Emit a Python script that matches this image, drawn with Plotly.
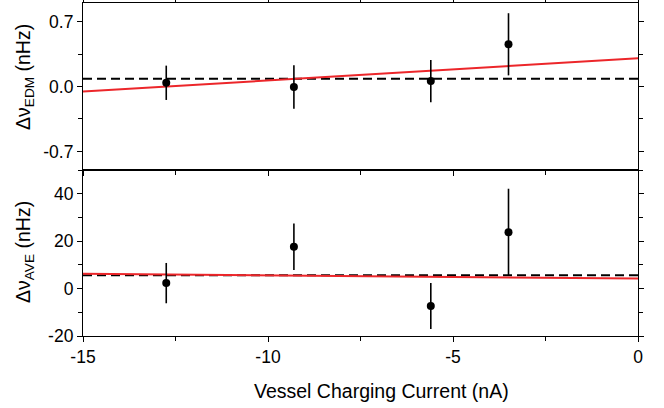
import plotly.graph_objects as go
from plotly.subplots import make_subplots

# Data
current_nA = [-12.75, -9.3, -5.6, -3.5]
edm_nHz = [0.04, -0.005, 0.058, 0.455]
edm_err = [0.185, 0.235, 0.228, 0.335]
ave_nHz = [2.3, 17.6, -7.35, 23.8]
ave_err = [8.5, 9.8, 9.75, 18.3]

fit_x = [-15, 0]
edm_fit = [-0.054, 0.304]
edm_mean = [0.084, 0.084]
ave_fit = [6.3, 4.2]
ave_mean = [5.6, 5.6]

edm_ticks = [-0.7, 0.0, 0.7]
edm_ticktext = ["-0.7", "0.0", "0.7"]
ave_ticks = [-20, 0, 20, 40]
ave_ticktext = ["-20", "0", "20", "40"]
x_ticks = [-15, -10, -5, 0]
x_ticktext = ["-15", "-10", "-5", "0"]

x_title = "Vessel Charging Current (nA)"
edm_title = "Δν<sub>EDM</sub> (nHz)"
ave_title = "Δν<sub>AVE</sub> (nHz)"

FONT = "Liberation Sans, Arial, Helvetica, sans-serif"
RED = "rgb(236,38,42)"

fig = make_subplots(rows=2, cols=1, shared_xaxes=True, vertical_spacing=0)

for row, yv, ye, fit, mean in [(1, edm_nHz, edm_err, edm_fit, edm_mean),
                                (2, ave_nHz, ave_err, ave_fit, ave_mean)]:
    fig.add_trace(go.Scatter(x=fit_x, y=mean, mode="lines",
                             line=dict(color="black", width=2, dash="9px,5px"),
                             showlegend=False, hoverinfo="skip"), row=row, col=1)
    fig.add_trace(go.Scatter(x=fit_x, y=fit, mode="lines",
                             line=dict(color=RED, width=2),
                             showlegend=False, hoverinfo="skip"), row=row, col=1)
    fig.add_trace(go.Scatter(x=current_nA, y=yv, mode="markers",
                             marker=dict(color="black", size=8),
                             error_y=dict(type="data", array=ye, width=0,
                                          thickness=1.6, color="black"),
                             showlegend=False), row=row, col=1)

common_axis = dict(showline=True, linecolor="black", linewidth=1.2,
                   ticks="outside", ticklen=5, tickwidth=1, tickcolor="black",
                   showgrid=False, zeroline=False,
                   tickfont=dict(family=FONT, size=17.5, color="black"))

# pixel geometry of the plot area
L, R, T, B = 83, 638, 3, 336
W, H = R - L, B - T
split = (B - 170) / H

def px_x(p):
    return (p - L) / W

def px_y(p):
    return (B - p) / H

fig.update_xaxes(range=[-15, 0], tickvals=x_ticks, ticktext=x_ticktext,
                 minor=dict(dtick=2.5, tick0=0, ticks="outside", ticklen=4,
                            tickcolor="black"),
                 **common_axis)
fig.update_xaxes(row=1, col=1, mirror="ticks", showticklabels=False)
fig.update_xaxes(row=2, col=1, mirror=True)

fig.update_yaxes(row=1, col=1, range=[-0.9, 0.9], tickvals=edm_ticks,
                 ticktext=edm_ticktext, mirror="ticks", domain=[split, 1],
                 minor=dict(dtick=0.35, tick0=0, ticks="outside", ticklen=4,
                            tickcolor="black"),
                 **common_axis)
fig.update_yaxes(row=2, col=1, range=[-20, 50], tickvals=ave_ticks,
                 ticktext=ave_ticktext, mirror="ticks", domain=[0, split],
                 minor=dict(dtick=10, tick0=0, ticks="outside", ticklen=4,
                            tickcolor="black"),
                 **common_axis)

title_font = dict(family=FONT, size=19.5, color="black")
fig.add_annotation(text=x_title, xref="paper", yref="paper",
                   x=px_x(381), y=px_y(378), xanchor="center", yanchor="top",
                   showarrow=False, font=title_font)
fig.add_annotation(text=edm_title, xref="paper", yref="paper",
                   x=px_x(24), y=px_y(77), xanchor="center", yanchor="middle",
                   textangle=-90, showarrow=False, font=title_font)
fig.add_annotation(text=ave_title, xref="paper", yref="paper",
                   x=px_x(24), y=px_y(252), xanchor="center", yanchor="middle",
                   textangle=-90, showarrow=False, font=title_font)

fig.update_layout(width=664, height=408,
                  margin=dict(l=L, r=664 - R, t=T, b=408 - B, autoexpand=False),
                  plot_bgcolor="white", paper_bgcolor="white",
                  font=dict(family=FONT, size=16, color="black"))

fig.write_html("out.html")
